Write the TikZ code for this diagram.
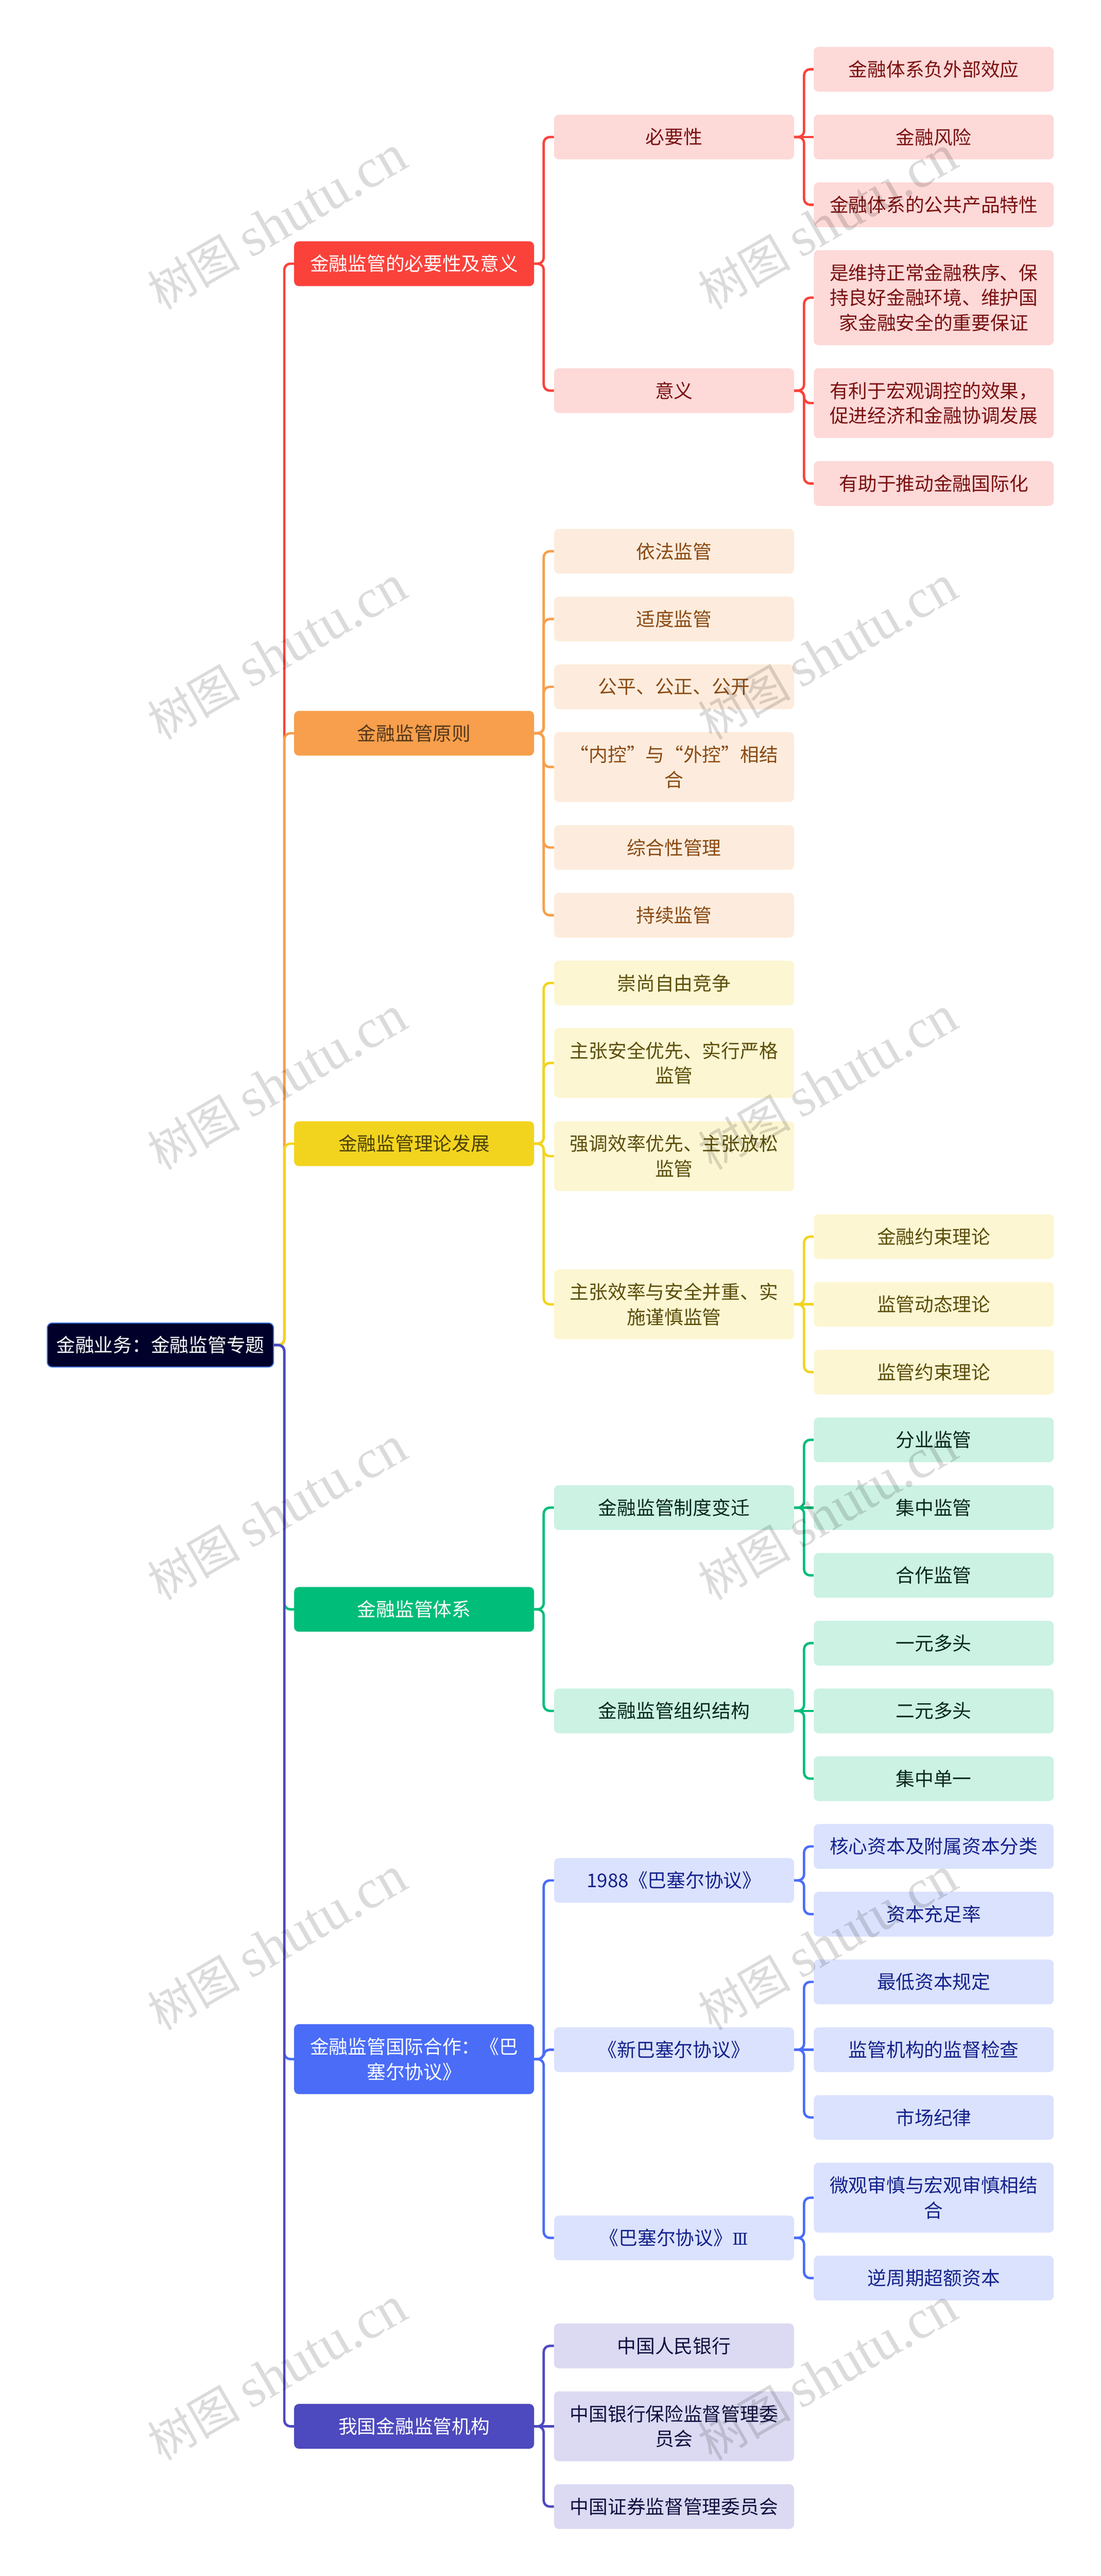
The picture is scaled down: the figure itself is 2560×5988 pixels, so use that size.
\documentclass[tikz,border=0pt]{standalone}
\usepackage{fontspec}
\usepackage{xcolor}
\setmainfont{Noto Sans CJK SC}
\newfontfamily\markfont{Liberation Serif}
\newfontfamily\numfont{DejaVu Serif}
\usetikzlibrary{positioning}
\definecolor{redmain}{HTML}{FA423B}
\definecolor{redsoft}{HTML}{FDD9D8}
\definecolor{redtext}{HTML}{7A0F0F}
\definecolor{orangemain}{HTML}{F79F4C}
\definecolor{orangesoft}{HTML}{FDECDD}
\definecolor{orangetext}{HTML}{8A4A12}
\definecolor{orangedark}{HTML}{55361A}
\definecolor{yellowmain}{HTML}{F2D41F}
\definecolor{yellowsoft}{HTML}{FCF6D2}
\definecolor{yellowtext}{HTML}{5C4E08}
\definecolor{yellowdark}{HTML}{4C410A}
\definecolor{greenmain}{HTML}{00BD7A}
\definecolor{greensoft}{HTML}{CCF2E4}
\definecolor{greentext}{HTML}{03281A}
\definecolor{bluemain}{HTML}{4A6CF7}
\definecolor{bluesoft}{HTML}{DBE2FD}
\definecolor{bluetext}{HTML}{14228C}
\definecolor{indigomain}{HTML}{4D49BE}
\definecolor{indigosoft}{HTML}{DBDAF2}
\definecolor{indigotext}{HTML}{0F0F40}
\definecolor{rootfill}{HTML}{00002B}
\definecolor{rootline}{HTML}{3E6FD8}
\tikzset{
    x=0.5pt, y=-0.5pt,
    box/.style={
        rectangle,
        rounded corners=5.5pt,
        minimum width=279pt,
        minimum height=52pt,
        inner sep=0pt,
        align=center,
        font={\fontsize{22pt}{29.25pt}\selectfont},
    },
    twolines/.style={minimum height=81.25pt},
    threelines/.style={minimum height=110.5pt},
    rootbox/.style={box, fill=rootfill, draw=rootline, line width=1.2pt, text=white,
        minimum width=263pt, minimum height=51pt},
    redtop/.style={box, fill=redmain, text=white},
    redsub/.style={box, fill=redsoft, text=redtext},
    orangetop/.style={box, fill=orangemain, text=orangedark},
    orangesub/.style={box, fill=orangesoft, text=orangetext},
    yellowtop/.style={box, fill=yellowmain, text=yellowdark},
    yellowsub/.style={box, fill=yellowsoft, text=yellowtext},
    greentop/.style={box, fill=greenmain, text=white},
    greensub/.style={box, fill=greensoft, text=greentext},
    bluetop/.style={box, fill=bluemain, text=white},
    bluesub/.style={box, fill=bluesoft, text=bluetext},
    indigotop/.style={box, fill=indigomain, text=white},
    indigosub/.style={box, fill=indigosoft, text=indigotext},
    link/.style={draw=#1, line width=2.8pt, rounded corners=7pt},
    watermark/.style={inner sep=0pt, rotate=30, text=black, text opacity=.14, anchor=center},
}
\begin{document}
\begin{tikzpicture}
\useasboundingbox (0,0) rectangle (2560,5988);
\node[rootbox] (root) at (373,3126.5) {金融业务：金融监管专题};

% first branch
\node[redtop] (need) at (963,613) {金融监管的必要性及意义};
\node[redsub] (must) at (1567.5,318.5) {必要性};
\node[redsub] (mean) at (1567.5,908) {意义};
\node[redsub] (must1) at (2171.5,161) {金融体系负外部效应};
\node[redsub] (must2) at (2171.5,318.5) {金融风险};
\node[redsub] (must3) at (2171.5,476) {金融体系的公共产品特性};
\node[redsub, threelines] (mean1) at (2171.5,692) {是维持正常金融秩序、保\\持良好金融环境、维护国\\家金融安全的重要保证};
\node[redsub, twolines] (mean2) at (2171.5,937) {有利于宏观调控的效果，\\促进经济和金融协调发展};
\node[redsub] (mean3) at (2171.5,1124) {有助于推动金融国际化};

\node[orangetop] (rule) at (963,1704.5) {金融监管原则};
\node[orangesub] (rule1) at (1567.5,1281.5) {依法监管};
\node[orangesub] (rule2) at (1567.5,1439) {适度监管};
\node[orangesub] (rule3) at (1567.5,1596.5) {公平、公正、公开};
\node[orangesub, twolines] (rule4) at (1567.5,1783) {“内控”与“外控”相结\\合};
\node[orangesub] (rule5) at (1567.5,1970) {综合性管理};
\node[orangesub] (rule6) at (1567.5,2127.5) {持续监管};

\node[yellowtop] (theory) at (963,2658.5) {金融监管理论发展};
\node[yellowsub] (theory1) at (1567.5,2285) {崇尚自由竞争};
\node[yellowsub, twolines] (theory2) at (1567.5,2471) {主张安全优先、实行严格\\监管};
\node[yellowsub, twolines] (theory3) at (1567.5,2687.5) {强调效率优先、主张放松\\监管};
\node[yellowsub, twolines] (theory4) at (1567.5,3032) {主张效率与安全并重、实\\施谨慎监管};
\node[yellowsub] (bound1) at (2171.5,2874.5) {金融约束理论};
\node[yellowsub] (bound2) at (2171.5,3032) {监管动态理论};
\node[yellowsub] (bound3) at (2171.5,3189.5) {监管约束理论};

\node[greentop] (system) at (963,3741) {金融监管体系};
\node[greensub] (change) at (1567.5,3504.5) {金融监管制度变迁};
\node[greensub] (organ) at (1567.5,3977) {金融监管组织结构};
\node[greensub] (change1) at (2171.5,3347) {分业监管};
\node[greensub] (change2) at (2171.5,3504.5) {集中监管};
\node[greensub] (change3) at (2171.5,3662) {合作监管};
\node[greensub] (organ1) at (2171.5,3819.5) {一元多头};
\node[greensub] (organ2) at (2171.5,3977) {二元多头};
\node[greensub] (organ3) at (2171.5,4134.5) {集中单一};

\node[bluetop, twolines] (basel) at (963,4786.5) {金融监管国际合作：《巴\\塞尔协议》};
\node[bluesub] (old) at (1567.5,4371) {1988《巴塞尔协议》};
\node[bluesub] (new) at (1567.5,4764.5) {《新巴塞尔协议》};
\node[bluesub] (third) at (1567.5,5202) {《巴塞尔协议》{\numfont\fontsize{19pt}{29.25pt}\selectfont Ⅲ}};
\node[bluesub] (old1) at (2171.5,4292) {核心资本及附属资本分类};
\node[bluesub] (old2) at (2171.5,4449.5) {资本充足率};
\node[bluesub] (new1) at (2171.5,4607) {最低资本规定};
\node[bluesub] (new2) at (2171.5,4764.5) {监管机构的监督检查};
\node[bluesub] (new3) at (2171.5,4922) {市场纪律};
\node[bluesub, twolines] (third1) at (2171.5,5108.5) {微观审慎与宏观审慎相结\\合};
\node[bluesub] (third2) at (2171.5,5295.5) {逆周期超额资本};

\node[indigotop] (agency) at (963,5640) {我国金融监管机构};
\node[indigosub] (agency1) at (1567.5,5453) {中国人民银行};
\node[indigosub, twolines] (agency2) at (1567.5,5640) {中国银行保险监督管理委\\员会};
\node[indigosub] (agency3) at (1567.5,5826.5) {中国证券监督管理委员会};

% connectors, the later colours lie over the earlier ones on the trunk
\draw[link=redmain] (root.east) -- ++(24,0) |- (need.west);
\draw[link=orangemain] (root.east) -- ++(24,0) |- (rule.west);
\draw[link=yellowmain] (root.east) -- ++(24,0) |- (theory.west);
\draw[link=greenmain] (root.east) -- ++(24,0) |- (system.west);
\draw[link=bluemain] (root.east) -- ++(24,0) |- (basel.west);
\draw[link=indigomain] (root.east) -- ++(24,0) |- (agency.west);

\foreach \kid in {must,mean}
    \draw[link=redmain] (need.east) -- ++(22,0) |- (\kid.west);
\foreach \kid in {must1,must3}
    \draw[link=redmain] (must.east) -- ++(23,0) |- (\kid.west);
\draw[link=redmain] (must.east) -- (must2.west);
\foreach \kid in {mean1,mean2,mean3}
    \draw[link=redmain] (mean.east) -- ++(23,0) |- (\kid.west);

\foreach \kid in {rule1,rule2,rule3,rule4,rule5,rule6}
    \draw[link=orangemain] (rule.east) -- ++(22,0) |- (\kid.west);

\foreach \kid in {theory1,theory2,theory3,theory4}
    \draw[link=yellowmain] (theory.east) -- ++(22,0) |- (\kid.west);
\foreach \kid in {bound1,bound3}
    \draw[link=yellowmain] (theory4.east) -- ++(23,0) |- (\kid.west);
\draw[link=yellowmain] (theory4.east) -- (bound2.west);

\foreach \kid in {change,organ}
    \draw[link=greenmain] (system.east) -- ++(22,0) |- (\kid.west);
\foreach \kid in {change1,change3}
    \draw[link=greenmain] (change.east) -- ++(23,0) |- (\kid.west);
\draw[link=greenmain] (change.east) -- (change2.west);
\foreach \kid in {organ1,organ3}
    \draw[link=greenmain] (organ.east) -- ++(23,0) |- (\kid.west);
\draw[link=greenmain] (organ.east) -- (organ2.west);

\foreach \kid in {old,new,third}
    \draw[link=bluemain] (basel.east) -- ++(22,0) |- (\kid.west);
\foreach \kid in {old1,old2}
    \draw[link=bluemain] (old.east) -- ++(23,0) |- (\kid.west);
\foreach \kid in {new1,new3}
    \draw[link=bluemain] (new.east) -- ++(23,0) |- (\kid.west);
\draw[link=bluemain] (new.east) -- (new2.west);
\foreach \kid in {third1,third2}
    \draw[link=bluemain] (third.east) -- ++(23,0) |- (\kid.west);

\foreach \kid in {agency1,agency3}
    \draw[link=indigomain] (agency.east) -- ++(22,0) |- (\kid.west);
\draw[link=indigomain] (agency.east) -- (agency2.west);

% watermark
\foreach \col/\x in {a/645,b/1925}
    \foreach \row/\y in {a/518,b/1518,c/2518,d/3518,e/4518,f/5518}
        \node[watermark] (mark\col\row) at (\x,\y) {\fontsize{54pt}{60pt}\selectfont 树图 \markfont\fontsize{64pt}{70pt}\selectfont shutu.cn};
\end{tikzpicture}
\end{document}
